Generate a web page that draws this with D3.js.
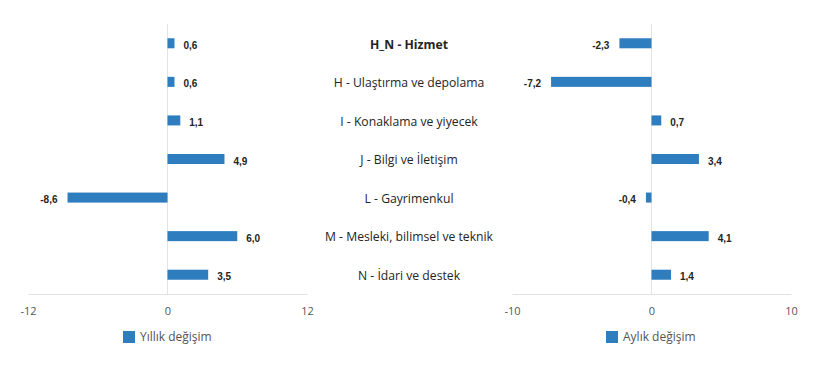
<!DOCTYPE html>
<html>
<head>
<meta charset="utf-8">
<script src="https://cdn.jsdelivr.net/npm/d3@7"></script>
<style>
  body { margin: 0; background: #fff; }
  svg text { font-family: "Open Sans", "Noto Sans", sans-serif; }
  .val { font-family: "Liberation Sans", Arial, sans-serif !important; font-weight: bold; font-size: 10px; fill: #252423; }
  .cat { font-size: 12.2px; fill: #252423; }
  .tick text { font-size: 11px; fill: #555; }
  .legend { font-size: 12px; fill: #555; }
</style>
</head>
<body>
<svg width="820" height="378"></svg>
<script>
const categories = [
	'H_N - Hizmet',
	'H - Ulaştırma ve depolama',
	'I - Konaklama ve yiyecek',
	'J - Bilgi ve İletişim',
	'L - Gayrimenkul',
	'M - Mesleki, bilimsel ve teknik',
	'N - İdari ve destek'
];
const yearly = [0.6, 0.6, 1.1, 4.9, -8.6, 6.0, 3.5];
const monthly = [-2.3, -7.2, 0.7, 3.4, -0.4, 4.1, 1.4];
const yearlyTicks = [-12, 0, 12];
const monthlyTicks = [-10, 0, 10];

const svg = d3.select('svg');
const barColor = '#2e7dbf';
const gridColor = '#e3e3e3';
const fmt = v => d3.format('.1f')(v).replace('.', ',').replace('−', '-');

const yScale = d3.scaleBand()
	.domain(categories)
	.range([24, 294])
	.paddingInner(0.74)
	.paddingOuter(0.37);

const drawPanel = (values, ticks, range, legendX, legendText) => {
	const xScale = d3.scaleLinear()
		.domain([ticks[0], ticks[ticks.length - 1]])
		.range(range);

	const g = svg.append('g');

	const xAxis = d3.axisBottom(xScale)
		.tickValues(ticks)
		.tickSize(0)
		.tickPadding(13)
		.tickFormat(d => String(d));

	const xAxisG = g.append('g')
		.attr('transform', 'translate(0, 294)')
		.call(xAxis);
	xAxisG.select('.domain').attr('stroke', gridColor);

	g.append('line')
		.attr('x1', xScale(0)).attr('x2', xScale(0))
		.attr('y1', 24).attr('y2', 294)
		.attr('stroke', gridColor);

	const data = categories.map((c, i) => ({ c, v: values[i] }));

	g.selectAll('rect.bar').data(data)
		.enter().append('rect')
			.attr('class', 'bar')
			.attr('x', d => xScale(Math.min(0, d.v)))
			.attr('y', d => yScale(d.c))
			.attr('width', d => Math.abs(xScale(d.v) - xScale(0)))
			.attr('height', yScale.bandwidth())
			.attr('fill', barColor);

	g.selectAll('text.val').data(data)
		.enter().append('text')
			.attr('class', 'val')
			.attr('x', d => d.v >= 0 ? xScale(d.v) + 9 : xScale(d.v) - 10)
			.attr('y', d => yScale(d.c) + yScale.bandwidth() / 2 + 2)
			.attr('dy', '0.35em')
			.attr('text-anchor', d => d.v >= 0 ? 'start' : 'end')
			.text(d => fmt(d.v));

	const lg = g.append('g').attr('transform', `translate(${legendX}, 331)`);
	lg.append('rect').attr('width', 12).attr('height', 12).attr('fill', barColor);
	lg.append('text')
		.attr('class', 'legend')
		.attr('x', 17)
		.attr('y', 6)
		.attr('dy', '0.35em')
		.text(legendText);
};

drawPanel(yearly, yearlyTicks, [28, 307], 123, 'Yıllık değişim');
drawPanel(monthly, monthlyTicks, [512, 791], 606, 'Aylık değişim');

svg.append('g').selectAll('text.cat').data(categories)
	.enter().append('text')
		.attr('class', 'cat')
		.attr('x', 409)
		.attr('y', d => yScale(d) + yScale.bandwidth() / 2 + 1)
		.attr('dy', '0.35em')
		.attr('text-anchor', 'middle')
		.attr('font-weight', (d, i) => i === 0 ? 'bold' : 'normal')
		.text(d => d);
</script>
</body>
</html>
